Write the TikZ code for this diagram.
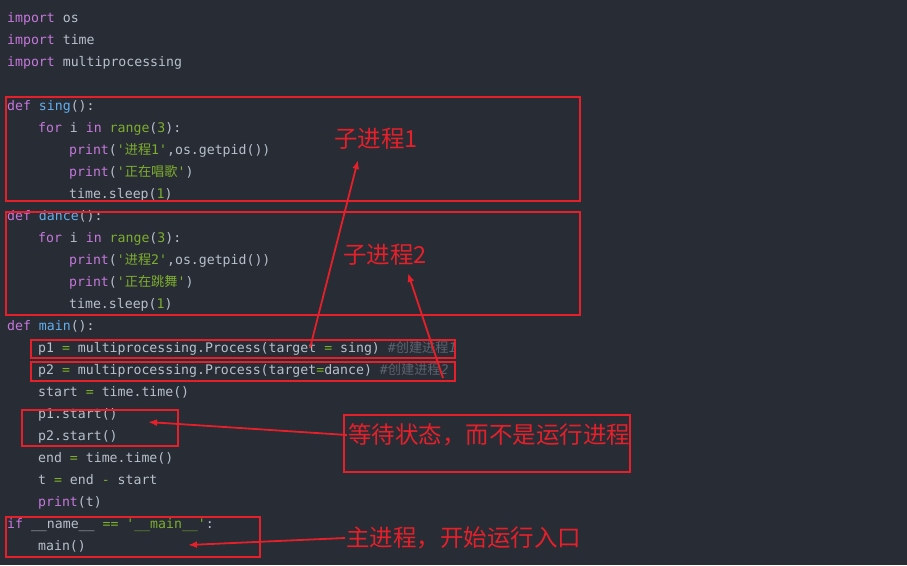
\documentclass[tikz,border=0pt]{standalone}
\usepackage{fontspec}
\setmonofont{DejaVu Sans Mono}
\newfontfamily\cjk{Noto Sans CJK SC}
\newfontfamily\cjkb{Noto Sans CJK SC Bold}
\usetikzlibrary{arrows.meta,fit}
\definecolor{bg}{HTML}{282C34}
\definecolor{tx}{HTML}{B8C0CC}
\definecolor{kw}{HTML}{C678DD}
\definecolor{fn}{HTML}{61AFEF}
\definecolor{st}{HTML}{7DAE2F}
\definecolor{cm}{HTML}{5C6370}
\definecolor{rd}{HTML}{E5202A}
\newcommand{\K}[1]{\textcolor{kw}{#1}}
\newcommand{\F}[1]{\textcolor{fn}{#1}}
\newcommand{\G}[1]{\textcolor{st}{#1}}
\newcommand{\C}[1]{\textcolor{cm}{\itshape #1}}
\newcommand{\Z}[1]{{\cjk #1}}
\tikzset{
  code/.style={anchor=base west,inner sep=0pt,text=tx,font=\ttfamily\fontsize{13.2}{15}\selectfont},
  rbox/.style={draw=rd,line width=1.8pt,inner sep=0pt},
  lab/.style={text=rd,font=\cjk\fontsize{23.5}{26}\selectfont,inner sep=1pt},
  arr/.style={draw=rd,line width=1.8pt,-{Latex[length=9pt,width=7pt]}}
}
\begin{document}
\begin{tikzpicture}[x=1pt,y=-1pt]
\fill[bg] (0,0) rectangle (907,565);
\useasboundingbox (0,0) rectangle (907,565);
\node[code] (l1) at (7,22) {\K{import} os};
\node[code] (l2) at (7,44) {\K{import} time};
\node[code] (l3) at (7,66) {\K{import} multiprocessing};
\node[code] (l5) at (7,110) {\K{def} \F{sing}():};
\node[code] (l6) at (38,132) {\K{for} i \K{in} \G{range}(\G{3}):};
\node[code] (l7) at (69,154) {\K{print}(\G{'\Z{进程}1'},os.getpid())};
\node[code] (l8) at (69,176) {\K{print}(\G{'\Z{正在唱歌}'})};
\node[code] (l9) at (69,198) {time.sleep(\G{1})};
\node[code] (l10) at (7,220) {\K{def} \F{dance}():};
\node[code] (l11) at (38,242) {\K{for} i \K{in} \G{range}(\G{3}):};
\node[code] (l12) at (69,264) {\K{print}(\G{'\Z{进程}2'},os.getpid())};
\node[code] (l13) at (69,286) {\K{print}(\G{'\Z{正在跳舞}'})};
\node[code] (l14) at (69,308) {time.sleep(\G{1})};
\node[code] (l15) at (7,330) {\K{def} \F{main}():};
\node[code] (l16) at (38,352) {p1 \G{=} multiprocessing.Process(target \G{=} sing) \C{\#\Z{创建进程}1}};
\node[code] (l17) at (38,374) {p2 \G{=} multiprocessing.Process(target\G{=}dance) \C{\#\Z{创建进程}2}};
\node[code] (l18) at (38,396) {start \G{=} time.time()};
\node[code] (l19) at (38,418) {p1.start()};
\node[code] (l20) at (38,440) {p2.start()};
\node[code] (l21) at (38,462) {end \G{=} time.time()};
\node[code] (l22) at (38,484) {t \G{=} end \G{-} start};
\node[code] (l23) at (38,506) {\K{print}(t)};
\node[code] (l24) at (7,528) {\K{if} \_\_name\_\_ \G{==} \G{'\_\_main\_\_'}:};
\node[code] (l25) at (38,550) {main()};
% boxes
\node[rbox,fit={(6,97)(580,201)}] (b1) {};
\node[rbox,fit={(6,212)(580,315)}] (b2) {};
\node[rbox,fit={(31,340)(455,358)}] (b3) {};
\node[rbox,fit={(31,362)(455,381)}] (b4) {};
\node[rbox,fit={(22,410)(178,446)}] (b5) {};
\node[rbox,fit={(344,415)(630,472)}] (b6) {};
\node[rbox,fit={(6,517)(260,557)}] (b7) {};
% labels
\node[lab] (t1) at (376,139) {子进程1};
\node[lab] (t2) at (385,255) {子进程2};
\node[lab,anchor=west] (t3) at (347,435) {等待状态，而不是运行进程};
\node[lab,anchor=west] (t4) at (345,538) {主进程，开始运行入口};
% arrows
\coordinate (s1) at (310,348); \coordinate (e1) at (358,160);
\coordinate (s2) at (443,378); \coordinate (e2) at (408,273);
\coordinate (e3) at (148,422); \coordinate (e4) at (188,545);
\draw[arr] (s1) -- (e1);
\draw[arr] (s2) -- (e2);
\draw[arr] (t3.west) -- (e3);
\draw[arr] (t4.west) -- (e4);
\end{tikzpicture}
\end{document}
